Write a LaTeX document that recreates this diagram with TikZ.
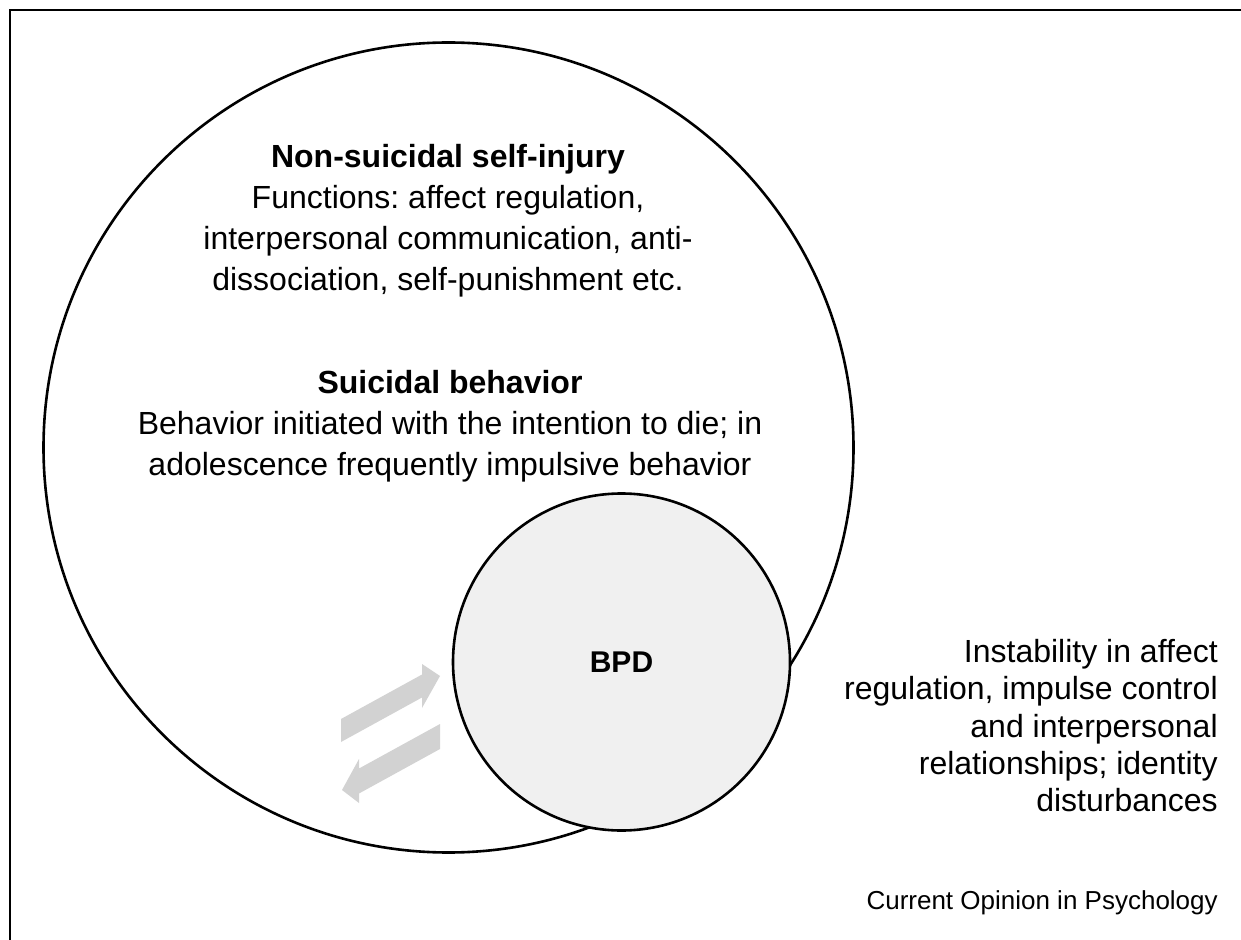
\documentclass[tikz,border=0pt]{standalone}
\usepackage{fontspec}
\setmainfont{Liberation Sans}
\usetikzlibrary{positioning}
\frenchspacing

\begin{document}
\begin{tikzpicture}[x=0.5pt, y=-0.5pt, line width=1.3pt,
		ring/.style={circle, draw, inner sep=0pt},
		circtext/.style={inner sep=0pt, align=center, font=\fontsize{16}{20.5}\selectfont},
		shiftarrow/.style={fill=gray!35, draw=none}]
				\useasboundingbox (0,0) rectangle (1241,940);
				\draw (1241,10) -- (10,10) -- (10,940);
				\node [ring, minimum size=405pt] (nssi) at (448.5,447.5) {};
				\node [circtext, anchor=north] (selfinjury) at (448,143) {\textbf{Non-suicidal self-injury}\\Functions: affect regulation,\\interpersonal communication, anti-\\dissociation, self-punishment etc.};
				\node [circtext, anchor=north] (suicidal) at (450,369) {\textbf{Suicidal behavior}\\Behavior initiated with the intention to die; in\\adolescence frequently impulsive behavior};
				
				\fill [shiftarrow] (341,719) -- (422,674.5) -- (422,664) -- (440,676) -- (422,708) -- (422,697.5) -- (341,742) -- cycle;
				\fill [shiftarrow] (440,724) -- (359,768.5) -- (359,759) -- (342,790) -- (359,803) -- (359,793.5) -- (440,749) -- cycle;
				
				\node [ring, fill=gray!12, minimum size=168.5pt, font=\fontsize{15}{18}\selectfont\bfseries] (bpd) at (621.5,662) {BPD};
				\node [inner sep=0pt, align=right, anchor=north east, font=\fontsize{16}{18.65}\selectfont] (traits) at (1219,638) {Instability in affect\\regulation, impulse control\\and interpersonal\\relationships; identity\\disturbances};
				\node [inner sep=0pt, anchor=base east, font=\fontsize{13}{15}\selectfont] (source) at (1219,909) {Current Opinion in Psychology};
			\end{tikzpicture}
\end{document}
